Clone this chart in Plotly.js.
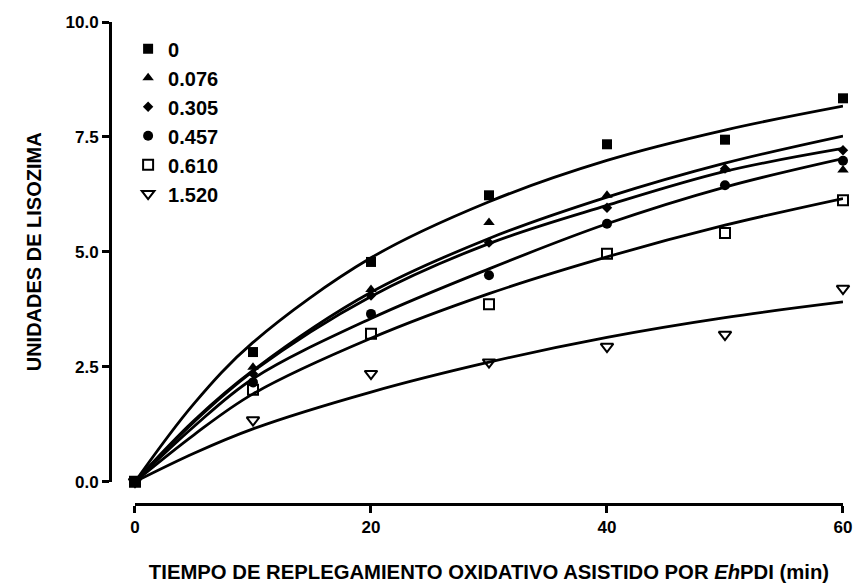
<!DOCTYPE html>
<html>
<head>
<meta charset="utf-8">
<script src="https://cdn.plot.ly/plotly-3.0.1.min.js"></script>
<style>html,body{margin:0;padding:0;background:#fff;}#chart{width:853px;height:584px;}</style>
</head>
<body>
<div id="chart"></div>
<script>
// Series names (legend labels)
const seriesNames = ["0", "0.076", "0.305", "0.457", "0.610", "1.520"];

// Measured points: time (min) vs lysozyme units
const timePoints = [0, 10, 20, 30, 40, 50, 60];
const units_0     = [0, 2.82, 4.78, 6.23, 7.34, 7.44, 8.34];
const units_0076  = [0, 2.49, 4.18, 5.64, 6.23, 6.80, 6.78];
const units_0305  = [0, 2.35, 4.05, 5.20, 5.96, 6.81, 7.21];
const units_0457  = [0, 2.16, 3.65, 4.49, 5.61, 6.45, 6.98];
const units_0610  = [0, 2.00, 3.22, 3.86, 4.96, 5.41, 6.12];
const units_1520  = [0, 1.34, 2.35, 2.60, 2.94, 3.20, 4.20];

// Fitted curves, values
const fitTime    = [0, 5, 10, 20, 30, 40, 50, 60];
const fit_0      = [0, 1.70, 3.03, 4.87, 6.09, 6.99, 7.65, 8.17];
const fit_0076   = [0, 1.33, 2.42, 4.12, 5.29, 6.19, 6.93, 7.52];
const fit_0305   = [0, 1.30, 2.40, 4.03, 5.18, 6.01, 6.75, 7.25];
const fit_0457   = [0, 1.20, 2.24, 3.55, 4.63, 5.61, 6.41, 7.03];
const fit_0610   = [0, 1.02, 1.91, 3.12, 4.09, 4.89, 5.58, 6.16];
const fit_1520   = [0, 0.62, 1.15, 1.95, 2.60, 3.14, 3.57, 3.91];

const pointSeries = [units_0, units_0076, units_0305, units_0457, units_0610, units_1520];
const fitSeries = [fit_0, fit_0076, fit_0305, fit_0457, fit_0610, fit_1520];

const markerStyles = [
  {symbol: "square", size: 10, color: "#000", line: {width: 0}},
  {symbol: "triangle-up", size: 10, color: "#000", line: {width: 0}},
  {symbol: "diamond", size: 8, color: "#000", line: {width: 0}},
  {symbol: "circle", size: 10, color: "#000", line: {width: 0}},
  {symbol: "square-open", size: 10, color: "#000", line: {width: 2, color: "#000"}},
  {symbol: "triangle-down-open", size: 11, color: "#000", line: {width: 2, color: "#000"}}
];

const traces = [];
fitSeries.forEach((ys, i) => {
  traces.push({
    x: fitTime, y: ys, type: "scatter", mode: "lines",
    line: {color: "#000", width: 2.8, shape: "spline", smoothing: 1},
    showlegend: false, hoverinfo: "skip"
  });
});
// draw order: bottom-most markers first, so square series on top
const order = [5, 4, 1, 3, 2, 0];
order.forEach(i => {
  traces.push({
    x: timePoints, y: pointSeries[i], type: "scatter", mode: "markers",
    name: seriesNames[i], legendgroup: "g" + i, legendrank: i + 1,
    marker: markerStyles[i], cliponaxis: false
  });
});

const fontFam = "Liberation Sans, Arial, sans-serif";
const layout = {
  width: 853, height: 584,
  margin: {l: 110, r: 10, t: 22, b: 80, pad: 0},
  paper_bgcolor: "#fff", plot_bgcolor: "#fff",
  font: {family: fontFam, color: "#000", size: 17, weight: "bold"},
  showlegend: true,
  legend: {
    x: 0.0247, y: 0.985, xanchor: "left", yanchor: "top",
    traceorder: "grouped", tracegroupgap: 0,
    font: {family: fontFam, size: 20, color: "#000", weight: "bold"},
    bgcolor: "rgba(0,0,0,0)", borderwidth: 0, itemwidth: 30
  },
  xaxis: {
    domain: [0.0341, 1], range: [0, 60], anchor: "free", position: 0,
    showline: true, linewidth: 3, linecolor: "#000",
    ticks: "outside", ticklen: 7, tickwidth: 3, tickcolor: "#000",
    tickmode: "array", tickvals: [0, 20, 40, 60], ticktext: ["0", "20", "40", "60"],
    showgrid: false, zeroline: false,
    tickfont: {family: fontFam, size: 17, weight: "bold"},
    title: {text: "TIEMPO DE REPLEGAMIENTO OXIDATIVO ASISTIDO POR <i>Eh</i>PDI (min)",
            font: {family: fontFam, size: 20.3, weight: "bold"}, standoff: 28}
  },
  yaxis: {
    domain: [0.0463, 1], range: [0, 10], anchor: "free", position: 0,
    showline: true, linewidth: 3, linecolor: "#000",
    ticks: "outside", ticklen: 7, tickwidth: 3, tickcolor: "#000",
    tickmode: "array", tickvals: [0, 2.5, 5, 7.5, 10], ticktext: ["0.0", "2.5", "5.0", "7.5", "10.0"],
    showgrid: false, zeroline: false,
    tickfont: {family: fontFam, size: 17, weight: "bold"},
    title: {text: "UNIDADES DE LISOZIMA", font: {family: fontFam, size: 20, weight: "bold"}, standoff: 17}
  }
};

Plotly.newPlot("chart", traces, layout, {displayModeBar: false, staticPlot: true});
</script>
</body>
</html>
